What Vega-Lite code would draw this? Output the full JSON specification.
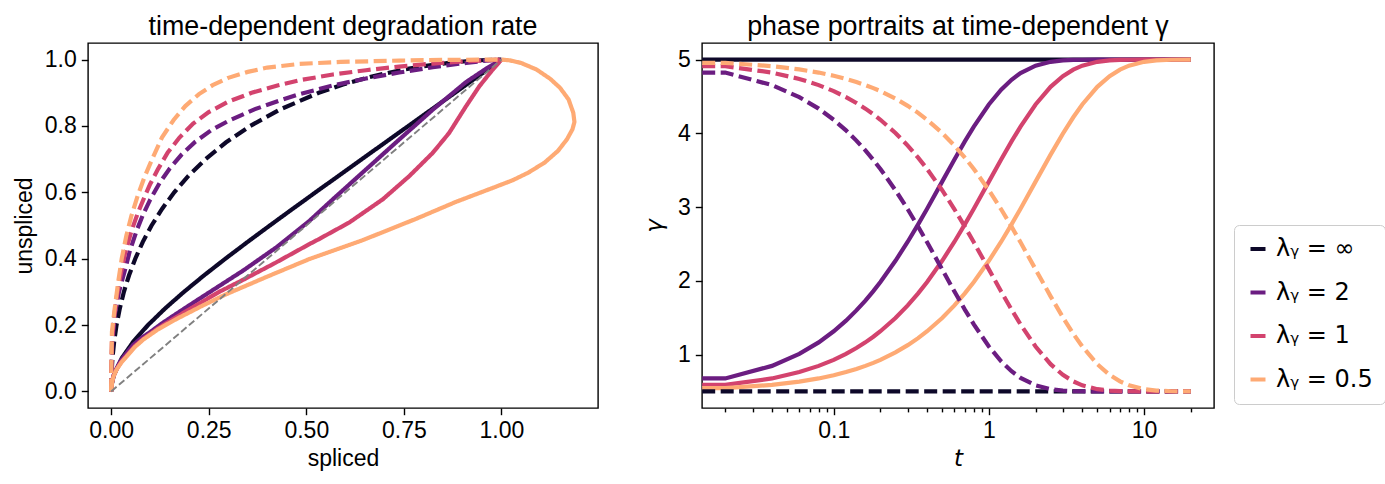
{
  "$schema": "https://vega.github.io/schema/vega-lite/v6.json",
  "background": "white",
  "padding": {"left": 12, "top": 13, "right": 5, "bottom": 4},
  "config": {
    "font": "Liberation Sans",
    "view": {"stroke": "#000000", "strokeWidth": 1.4},
    "axis": {"grid": false, "domain": false, "tickColor": "#000000", "tickWidth": 1.4, "tickSize": 6.7, "labelPadding": 5, "labelFont": "Liberation Sans", "labelFontSize": 23, "labelColor": "#000000", "titleFont": "Liberation Sans", "titleFontSize": 23, "titleFontWeight": "normal", "titleColor": "#000000"},
    "title": {"font": "Liberation Sans", "fontSize": 26.8, "fontWeight": "normal", "color": "#000000", "frame": "group", "anchor": "middle", "baseline": "alphabetic", "offset": 2},
    "line": {"strokeWidth": 4.2, "strokeCap": "butt"}
  },
  "datasets": {
    "left": [
      {"c":"∞","k":"solid","s":0,"u":0},{"c":"∞","k":"solid","s":0.0012,"u":0.02},{"c":"∞","k":"solid","s":0.0072,"u":0.05},{"c":"∞","k":"solid","s":0.027,"u":0.1},{"c":"∞","k":"solid","s":0.0567,"u":0.15},{"c":"∞","k":"solid","s":0.0944,"u":0.2},{"c":"∞","k":"solid","s":0.1381,"u":0.25},{"c":"∞","k":"solid","s":0.1865,"u":0.3},{"c":"∞","k":"solid","s":0.2383,"u":0.35},{"c":"∞","k":"solid","s":0.2927,"u":0.4},{"c":"∞","k":"solid","s":0.349,"u":0.45},{"c":"∞","k":"solid","s":0.4065,"u":0.5},{"c":"∞","k":"solid","s":0.4648,"u":0.55},{"c":"∞","k":"solid","s":0.5237,"u":0.6},{"c":"∞","k":"solid","s":0.6424,"u":0.7},{"c":"∞","k":"solid","s":0.7615,"u":0.8},{"c":"∞","k":"solid","s":0.8808,"u":0.9},{"c":"∞","k":"solid","s":0.9404,"u":0.95},{"c":"∞","k":"solid","s":1,"u":1},
      {"c":"∞","k":"dashed","s":0,"u":0},{"c":"∞","k":"dashed","s":0.0008,"u":0.05},{"c":"∞","k":"dashed","s":0.0032,"u":0.1},{"c":"∞","k":"dashed","s":0.0076,"u":0.15},{"c":"∞","k":"dashed","s":0.0137,"u":0.2},{"c":"∞","k":"dashed","s":0.0221,"u":0.25},{"c":"∞","k":"dashed","s":0.0326,"u":0.3},{"c":"∞","k":"dashed","s":0.0458,"u":0.35},{"c":"∞","k":"dashed","s":0.0617,"u":0.4},{"c":"∞","k":"dashed","s":0.0808,"u":0.45},{"c":"∞","k":"dashed","s":0.1035,"u":0.5},{"c":"∞","k":"dashed","s":0.1303,"u":0.55},{"c":"∞","k":"dashed","s":0.1616,"u":0.6},{"c":"∞","k":"dashed","s":0.1984,"u":0.65},{"c":"∞","k":"dashed","s":0.242,"u":0.7},{"c":"∞","k":"dashed","s":0.2937,"u":0.75},{"c":"∞","k":"dashed","s":0.3561,"u":0.8},{"c":"∞","k":"dashed","s":0.4331,"u":0.85},{"c":"∞","k":"dashed","s":0.5319,"u":0.9},{"c":"∞","k":"dashed","s":0.594,"u":0.925},{"c":"∞","k":"dashed","s":0.6709,"u":0.95},{"c":"∞","k":"dashed","s":0.7497,"u":0.97},{"c":"∞","k":"dashed","s":0.7999,"u":0.98},{"c":"∞","k":"dashed","s":0.8649,"u":0.99},{"c":"∞","k":"dashed","s":0.9096,"u":0.995},{"c":"∞","k":"dashed","s":0.9474,"u":0.998},{"c":"∞","k":"dashed","s":0.9772,"u":0.9995},{"c":"∞","k":"dashed","s":1,"u":1},
      {"c":"2","k":"solid","s":0,"u":0},{"c":"2","k":"solid","s":0.002,"u":0.027},{"c":"2","k":"solid","s":0.006,"u":0.048},{"c":"2","k":"solid","s":0.014,"u":0.07},{"c":"2","k":"solid","s":0.024,"u":0.092},{"c":"2","k":"solid","s":0.037,"u":0.112},{"c":"2","k":"solid","s":0.056,"u":0.14},{"c":"2","k":"solid","s":0.076,"u":0.16},{"c":"2","k":"solid","s":0.099,"u":0.178},{"c":"2","k":"solid","s":0.13,"u":0.205},{"c":"2","k":"solid","s":0.167,"u":0.234},{"c":"2","k":"solid","s":0.21,"u":0.267},{"c":"2","k":"solid","s":0.252,"u":0.299},{"c":"2","k":"solid","s":0.338,"u":0.364},{"c":"2","k":"solid","s":0.423,"u":0.434},{"c":"2","k":"solid","s":0.508,"u":0.514},{"c":"2","k":"solid","s":0.568,"u":0.579},{"c":"2","k":"solid","s":0.653,"u":0.669},{"c":"2","k":"solid","s":0.738,"u":0.759},{"c":"2","k":"solid","s":0.824,"u":0.849},{"c":"2","k":"solid","s":0.909,"u":0.932},{"c":"2","k":"solid","s":0.96,"u":0.972},{"c":"2","k":"solid","s":1,"u":1},
      {"c":"2","k":"dashed","s":0,"u":0},{"c":"2","k":"dashed","s":0.0005,"u":0.07},{"c":"2","k":"dashed","s":0.003,"u":0.15},{"c":"2","k":"dashed","s":0.009,"u":0.23},{"c":"2","k":"dashed","s":0.02,"u":0.3},{"c":"2","k":"dashed","s":0.034,"u":0.36},{"c":"2","k":"dashed","s":0.048,"u":0.424},{"c":"2","k":"dashed","s":0.065,"u":0.484},{"c":"2","k":"dashed","s":0.082,"u":0.534},{"c":"2","k":"dashed","s":0.1,"u":0.578},{"c":"2","k":"dashed","s":0.125,"u":0.63},{"c":"2","k":"dashed","s":0.15,"u":0.672},{"c":"2","k":"dashed","s":0.18,"u":0.713},{"c":"2","k":"dashed","s":0.215,"u":0.752},{"c":"2","k":"dashed","s":0.256,"u":0.787},{"c":"2","k":"dashed","s":0.3,"u":0.815},{"c":"2","k":"dashed","s":0.367,"u":0.85},{"c":"2","k":"dashed","s":0.43,"u":0.876},{"c":"2","k":"dashed","s":0.483,"u":0.896},{"c":"2","k":"dashed","s":0.568,"u":0.922},{"c":"2","k":"dashed","s":0.653,"u":0.943},{"c":"2","k":"dashed","s":0.738,"u":0.961},{"c":"2","k":"dashed","s":0.824,"u":0.977},{"c":"2","k":"dashed","s":0.909,"u":0.99},{"c":"2","k":"dashed","s":0.96,"u":0.997},{"c":"2","k":"dashed","s":1,"u":1},
      {"c":"1","k":"solid","s":0,"u":0},{"c":"1","k":"solid","s":0.002,"u":0.026},{"c":"1","k":"solid","s":0.006,"u":0.046},{"c":"1","k":"solid","s":0.014,"u":0.068},{"c":"1","k":"solid","s":0.026,"u":0.089},{"c":"1","k":"solid","s":0.039,"u":0.107},{"c":"1","k":"solid","s":0.06,"u":0.136},{"c":"1","k":"solid","s":0.082,"u":0.158},{"c":"1","k":"solid","s":0.12,"u":0.19},{"c":"1","k":"solid","s":0.167,"u":0.224},{"c":"1","k":"solid","s":0.23,"u":0.268},{"c":"1","k":"solid","s":0.28,"u":0.302},{"c":"1","k":"solid","s":0.3335,"u":0.3335},{"c":"1","k":"solid","s":0.42,"u":0.387},{"c":"1","k":"solid","s":0.508,"u":0.444},{"c":"1","k":"solid","s":0.534,"u":0.46},{"c":"1","k":"solid","s":0.61,"u":0.509},{"c":"1","k":"solid","s":0.696,"u":0.579},{"c":"1","k":"solid","s":0.764,"u":0.649},{"c":"1","k":"solid","s":0.824,"u":0.719},{"c":"1","k":"solid","s":0.866,"u":0.779},{"c":"1","k":"solid","s":0.909,"u":0.859},{"c":"1","k":"solid","s":0.943,"u":0.919},{"c":"1","k":"solid","s":0.977,"u":0.969},{"c":"1","k":"solid","s":1,"u":1},
      {"c":"1","k":"dashed","s":0,"u":0},{"c":"1","k":"dashed","s":0.0005,"u":0.08},{"c":"1","k":"dashed","s":0.002,"u":0.15},{"c":"1","k":"dashed","s":0.007,"u":0.22},{"c":"1","k":"dashed","s":0.015,"u":0.29},{"c":"1","k":"dashed","s":0.024,"u":0.35},{"c":"1","k":"dashed","s":0.035,"u":0.414},{"c":"1","k":"dashed","s":0.052,"u":0.484},{"c":"1","k":"dashed","s":0.069,"u":0.54},{"c":"1","k":"dashed","s":0.085,"u":0.585},{"c":"1","k":"dashed","s":0.1,"u":0.625},{"c":"1","k":"dashed","s":0.12,"u":0.67},{"c":"1","k":"dashed","s":0.145,"u":0.72},{"c":"1","k":"dashed","s":0.175,"u":0.765},{"c":"1","k":"dashed","s":0.21,"u":0.807},{"c":"1","k":"dashed","s":0.25,"u":0.842},{"c":"1","k":"dashed","s":0.3,"u":0.873},{"c":"1","k":"dashed","s":0.36,"u":0.9},{"c":"1","k":"dashed","s":0.426,"u":0.922},{"c":"1","k":"dashed","s":0.483,"u":0.938},{"c":"1","k":"dashed","s":0.568,"u":0.955},{"c":"1","k":"dashed","s":0.653,"u":0.968},{"c":"1","k":"dashed","s":0.738,"u":0.979},{"c":"1","k":"dashed","s":0.824,"u":0.988},{"c":"1","k":"dashed","s":0.909,"u":0.995},{"c":"1","k":"dashed","s":1,"u":1},
      {"c":"0.5","k":"solid","s":0,"u":0},{"c":"0.5","k":"solid","s":0.002,"u":0.025},{"c":"0.5","k":"solid","s":0.006,"u":0.045},{"c":"0.5","k":"solid","s":0.014,"u":0.066},{"c":"0.5","k":"solid","s":0.026,"u":0.087},{"c":"0.5","k":"solid","s":0.039,"u":0.104},{"c":"0.5","k":"solid","s":0.06,"u":0.133},{"c":"0.5","k":"solid","s":0.082,"u":0.156},{"c":"0.5","k":"solid","s":0.12,"u":0.187},{"c":"0.5","k":"solid","s":0.167,"u":0.218},{"c":"0.5","k":"solid","s":0.23,"u":0.256},{"c":"0.5","k":"solid","s":0.291,"u":0.291},{"c":"0.5","k":"solid","s":0.4,"u":0.346},{"c":"0.5","k":"solid","s":0.508,"u":0.399},{"c":"0.5","k":"solid","s":0.645,"u":0.456},{"c":"0.5","k":"solid","s":0.781,"u":0.52},{"c":"0.5","k":"solid","s":0.883,"u":0.571},{"c":"0.5","k":"solid","s":0.986,"u":0.617},{"c":"0.5","k":"solid","s":1.03,"u":0.637},{"c":"0.5","k":"solid","s":1.07,"u":0.66},{"c":"0.5","k":"solid","s":1.111,"u":0.69},{"c":"0.5","k":"solid","s":1.145,"u":0.725},{"c":"0.5","k":"solid","s":1.168,"u":0.76},{"c":"0.5","k":"solid","s":1.182,"u":0.79},{"c":"0.5","k":"solid","s":1.187,"u":0.812},{"c":"0.5","k":"solid","s":1.184,"u":0.84},{"c":"0.5","k":"solid","s":1.172,"u":0.88},{"c":"0.5","k":"solid","s":1.15,"u":0.915},{"c":"0.5","k":"solid","s":1.125,"u":0.942},{"c":"0.5","k":"solid","s":1.09,"u":0.97},{"c":"0.5","k":"solid","s":1.05,"u":0.99},{"c":"0.5","k":"solid","s":1.02,"u":0.998},{"c":"0.5","k":"solid","s":1,"u":1},
      {"c":"0.5","k":"dashed","s":0,"u":0},{"c":"0.5","k":"dashed","s":0.0005,"u":0.09},{"c":"0.5","k":"dashed","s":0.002,"u":0.18},{"c":"0.5","k":"dashed","s":0.009,"u":0.25},{"c":"0.5","k":"dashed","s":0.018,"u":0.33},{"c":"0.5","k":"dashed","s":0.027,"u":0.4},{"c":"0.5","k":"dashed","s":0.039,"u":0.47},{"c":"0.5","k":"dashed","s":0.052,"u":0.53},{"c":"0.5","k":"dashed","s":0.068,"u":0.59},{"c":"0.5","k":"dashed","s":0.085,"u":0.645},{"c":"0.5","k":"dashed","s":0.105,"u":0.7},{"c":"0.5","k":"dashed","s":0.13,"u":0.765},{"c":"0.5","k":"dashed","s":0.16,"u":0.818},{"c":"0.5","k":"dashed","s":0.19,"u":0.86},{"c":"0.5","k":"dashed","s":0.225,"u":0.896},{"c":"0.5","k":"dashed","s":0.26,"u":0.923},{"c":"0.5","k":"dashed","s":0.3,"u":0.945},{"c":"0.5","k":"dashed","s":0.35,"u":0.963},{"c":"0.5","k":"dashed","s":0.4,"u":0.976},{"c":"0.5","k":"dashed","s":0.483,"u":0.987},{"c":"0.5","k":"dashed","s":0.588,"u":0.993},{"c":"0.5","k":"dashed","s":0.738,"u":0.997},{"c":"0.5","k":"dashed","s":0.85,"u":0.999},{"c":"0.5","k":"dashed","s":1,"u":1}
    ],
    "right": [
      {"c":"∞","t":0.0142,"up":5,"dn":0.5},{"c":"∞","t":20,"up":5,"dn":0.5},
      {"c":"2","t":0.0142,"up":0.676,"dn":4.824},{"c":"2","t":0.02,"up":0.676,"dn":4.824},{"c":"2","t":0.04,"up":0.846,"dn":4.654},{"c":"2","t":0.06,"up":1.009,"dn":4.491},{"c":"2","t":0.08,"up":1.165,"dn":4.335},{"c":"2","t":0.1,"up":1.316,"dn":4.184},{"c":"2","t":0.12,"up":1.46,"dn":4.04},{"c":"2","t":0.14,"up":1.599,"dn":3.901},{"c":"2","t":0.16,"up":1.732,"dn":3.768},{"c":"2","t":0.18,"up":1.86,"dn":3.64},{"c":"2","t":0.2,"up":1.984,"dn":3.516},{"c":"2","t":0.25,"up":2.271,"dn":3.229},{"c":"2","t":0.3,"up":2.53,"dn":2.97},{"c":"2","t":0.35,"up":2.765,"dn":2.735},{"c":"2","t":0.4,"up":2.978,"dn":2.522},{"c":"2","t":0.5,"up":3.345,"dn":2.155},{"c":"2","t":0.6,"up":3.645,"dn":1.855},{"c":"2","t":0.7,"up":3.89,"dn":1.61},{"c":"2","t":0.8,"up":4.091,"dn":1.409},{"c":"2","t":1,"up":4.391,"dn":1.109},{"c":"2","t":1.2,"up":4.592,"dn":0.908},{"c":"2","t":1.4,"up":4.726,"dn":0.774},{"c":"2","t":1.6,"up":4.817,"dn":0.683},{"c":"2","t":2,"up":4.918,"dn":0.582},{"c":"2","t":2.5,"up":4.97,"dn":0.53},{"c":"2","t":3,"up":4.989,"dn":0.511},{"c":"2","t":3.5,"up":4.996,"dn":0.504},{"c":"2","t":4,"up":4.998,"dn":0.502},{"c":"2","t":5,"up":5,"dn":0.5},{"c":"2","t":20,"up":5,"dn":0.5},
      {"c":"1","t":0.0142,"up":0.589,"dn":4.911},{"c":"1","t":0.02,"up":0.589,"dn":4.911},{"c":"1","t":0.04,"up":0.676,"dn":4.824},{"c":"1","t":0.06,"up":0.762,"dn":4.738},{"c":"1","t":0.08,"up":0.846,"dn":4.654},{"c":"1","t":0.1,"up":0.928,"dn":4.572},{"c":"1","t":0.12,"up":1.009,"dn":4.491},{"c":"1","t":0.14,"up":1.088,"dn":4.412},{"c":"1","t":0.16,"up":1.165,"dn":4.335},{"c":"1","t":0.18,"up":1.241,"dn":4.259},{"c":"1","t":0.2,"up":1.316,"dn":4.184},{"c":"1","t":0.25,"up":1.495,"dn":4.005},{"c":"1","t":0.3,"up":1.666,"dn":3.834},{"c":"1","t":0.35,"up":1.829,"dn":3.671},{"c":"1","t":0.4,"up":1.984,"dn":3.516},{"c":"1","t":0.5,"up":2.271,"dn":3.229},{"c":"1","t":0.6,"up":2.53,"dn":2.97},{"c":"1","t":0.7,"up":2.765,"dn":2.735},{"c":"1","t":0.8,"up":2.978,"dn":2.522},{"c":"1","t":1,"up":3.345,"dn":2.155},{"c":"1","t":1.2,"up":3.645,"dn":1.855},{"c":"1","t":1.4,"up":3.89,"dn":1.61},{"c":"1","t":1.6,"up":4.091,"dn":1.409},{"c":"1","t":2,"up":4.391,"dn":1.109},{"c":"1","t":2.5,"up":4.631,"dn":0.869},{"c":"1","t":3,"up":4.776,"dn":0.724},{"c":"1","t":3.5,"up":4.864,"dn":0.636},{"c":"1","t":4,"up":4.918,"dn":0.582},{"c":"1","t":5,"up":4.97,"dn":0.53},{"c":"1","t":6,"up":4.989,"dn":0.511},{"c":"1","t":7,"up":4.996,"dn":0.504},{"c":"1","t":8,"up":4.998,"dn":0.502},{"c":"1","t":10,"up":5,"dn":0.5},{"c":"1","t":20,"up":5,"dn":0.5},
      {"c":"0.5","t":0.0142,"up":0.545,"dn":4.955},{"c":"0.5","t":0.02,"up":0.545,"dn":4.955},{"c":"0.5","t":0.04,"up":0.589,"dn":4.911},{"c":"0.5","t":0.06,"up":0.633,"dn":4.867},{"c":"0.5","t":0.08,"up":0.676,"dn":4.824},{"c":"0.5","t":0.1,"up":0.719,"dn":4.781},{"c":"0.5","t":0.12,"up":0.762,"dn":4.738},{"c":"0.5","t":0.14,"up":0.804,"dn":4.696},{"c":"0.5","t":0.16,"up":0.846,"dn":4.654},{"c":"0.5","t":0.18,"up":0.887,"dn":4.613},{"c":"0.5","t":0.2,"up":0.928,"dn":4.572},{"c":"0.5","t":0.25,"up":1.029,"dn":4.471},{"c":"0.5","t":0.3,"up":1.127,"dn":4.373},{"c":"0.5","t":0.35,"up":1.222,"dn":4.278},{"c":"0.5","t":0.4,"up":1.316,"dn":4.184},{"c":"0.5","t":0.5,"up":1.495,"dn":4.005},{"c":"0.5","t":0.6,"up":1.666,"dn":3.834},{"c":"0.5","t":0.7,"up":1.829,"dn":3.671},{"c":"0.5","t":0.8,"up":1.984,"dn":3.516},{"c":"0.5","t":1,"up":2.271,"dn":3.229},{"c":"0.5","t":1.2,"up":2.53,"dn":2.97},{"c":"0.5","t":1.4,"up":2.765,"dn":2.735},{"c":"0.5","t":1.6,"up":2.978,"dn":2.522},{"c":"0.5","t":2,"up":3.345,"dn":2.155},{"c":"0.5","t":2.5,"up":3.711,"dn":1.789},{"c":"0.5","t":3,"up":3.996,"dn":1.504},{"c":"0.5","t":3.5,"up":4.218,"dn":1.282},{"c":"0.5","t":4,"up":4.391,"dn":1.109},{"c":"0.5","t":5,"up":4.631,"dn":0.869},{"c":"0.5","t":6,"up":4.776,"dn":0.724},{"c":"0.5","t":7,"up":4.864,"dn":0.636},{"c":"0.5","t":8,"up":4.918,"dn":0.582},{"c":"0.5","t":10,"up":4.97,"dn":0.53},{"c":"0.5","t":12,"up":4.989,"dn":0.511},{"c":"0.5","t":15,"up":4.998,"dn":0.502},{"c":"0.5","t":20,"up":5,"dn":0.5}
    ]
  },
  "hconcat": [
    {
      "width": 510,
      "height": 365,
      "title": "time-dependent degradation rate",
      "layer": [
        {
          "data": {"name": "left"},
          "mark": {"type": "line", "clip": true},
          "encoding": {
            "x": {"field": "s", "type": "quantitative", "scale": {"domain": [-0.0594, 1.2474], "nice": false, "zero": false}, "axis": {"values": [0, 0.25, 0.5, 0.75, 1], "format": ".2f", "title": "spliced", "titlePadding": 5}},
            "y": {"field": "u", "type": "quantitative", "scale": {"domain": [-0.05, 1.05], "nice": false, "zero": false}, "axis": {"values": [0, 0.2, 0.4, 0.6, 0.8, 1], "format": ".1f", "title": "unspliced", "titlePadding": 8}},
            "color": {"field": "c", "type": "nominal", "scale": {"domain": ["∞", "2", "1", "0.5"], "range": ["#0d0829", "#6b1d81", "#d3436e", "#feaa74"]}, "legend": null},
            "strokeDash": {"field": "k", "type": "nominal", "scale": {"domain": ["solid", "dashed"], "range": [[1, 0], [13, 5.5]]}, "legend": null},
            "order": {"field": "u", "type": "quantitative"}
          }
        },
        {
          "data": {"values": [{"s": 0, "u": 0}, {"s": 1, "u": 1}]},
          "mark": {"type": "line", "color": "#808080", "strokeWidth": 1.9, "strokeDash": [7.1, 3.1]},
          "encoding": {
            "x": {"field": "s", "type": "quantitative"},
            "y": {"field": "u", "type": "quantitative"}
          }
        }
      ]
    },
    {
      "width": 512,
      "height": 365,
      "title": "phase portraits at time-dependent γ",
      "data": {"name": "right"},
      "encoding": {
        "x": {"field": "t", "type": "quantitative", "scale": {"type": "log", "domain": [0.01416, 28.25], "nice": false},
          "axis": {"values": [0.02, 0.03, 0.04, 0.05, 0.06, 0.07, 0.08, 0.09, 0.1, 0.2, 0.3, 0.4, 0.5, 0.6, 0.7, 0.8, 0.9, 1, 2, 3, 4, 5, 6, 7, 8, 9, 10, 20],
            "labelExpr": "datum.value == 0.1 ? '0.1' : datum.value == 1 ? '1' : datum.value == 10 ? '10' : ''",
            "tickSize": {"condition": {"test": "datum.value == 0.1 || datum.value == 1 || datum.value == 10", "value": 6.7}, "value": 3.9},
            "labelOverlap": false, "labelFlush": false, "title": "t", "titleFont": "DejaVu Sans", "titleFontStyle": "italic", "titlePadding": 5}},
        "color": {"field": "c", "type": "nominal", "scale": {"domain": ["∞", "2", "1", "0.5"], "range": ["#0d0829", "#6b1d81", "#d3436e", "#feaa74"]},
          "legend": {"orient": "none", "legendX": 532, "legendY": 182, "title": null, "labelExpr": "'λᵧ = ' + datum.label", "labelFont": "DejaVu Sans", "labelFontSize": 24, "labelColor": "#000000", "symbolType": "stroke", "symbolStrokeWidth": 4.2, "symbolSize": 225, "symbolDash": [1, 0], "strokeColor": "#cccccc", "cornerRadius": 5, "padding": 12, "rowPadding": 19.5, "labelOffset": 6, "fillColor": "#ffffff"}}
      },
      "layer": [
        {
          "mark": {"type": "line", "clip": true},
          "encoding": {
            "y": {"field": "up", "type": "quantitative", "scale": {"domain": [0.275, 5.225], "nice": false, "zero": false}, "axis": {"values": [1, 2, 3, 4, 5], "format": "d", "title": "γ", "titleFont": "DejaVu Sans", "titleFontStyle": "italic", "titlePadding": 11}}
          }
        },
        {
          "mark": {"type": "line", "clip": true, "strokeDash": [13, 5.5]},
          "encoding": {
            "y": {"field": "dn", "type": "quantitative"}
          }
        }
      ]
    }
  ],
  "spacing": 43,
  "resolve": {"scale": {"color": "independent", "strokeDash": "independent"}, "legend": {"color": "independent", "strokeDash": "independent"}}
}
